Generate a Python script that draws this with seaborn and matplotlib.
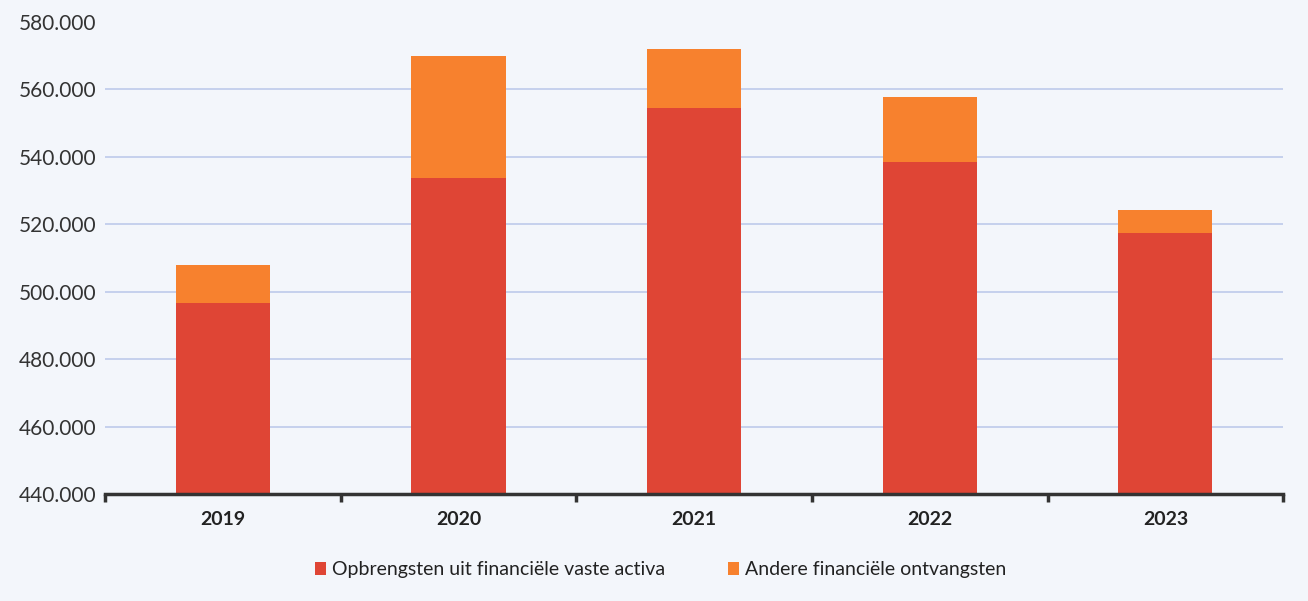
import matplotlib
matplotlib.use("Agg")
import matplotlib.pyplot as plt
import seaborn as sns
import pandas as pd
from matplotlib.ticker import FuncFormatter, FixedLocator
from matplotlib.patches import Patch

years = ["2019", "2020", "2021", "2022", "2023"]
opbrengsten = [496.7, 533.7, 554.5, 538.5, 517.4]
andere = [11.2, 36.2, 17.5, 19.3, 6.8]
series_names = ["Opbrengsten uit financiële vaste activa", "Andere financiële ontvangsten"]

totals = [a + b for a, b in zip(opbrengsten, andere)]
df = pd.DataFrame({"year": years, "red": opbrengsten, "total": totals})

sns.set_theme(style="white")
plt.rcParams["font.family"] = ["Lato", "DejaVu Sans"]

bg = "#f3f6fb"
red = "#df4535"
orange = "#f7812e"

fig = plt.figure(figsize=(13.08, 6.01), dpi=100, facecolor=bg)
ax = fig.add_axes([0.0803, 0.178, 0.9007, 0.7854])
ax.set_facecolor(bg)

sns.barplot(data=df, x="year", y="total", color=orange, saturation=1, width=0.4, ax=ax, zorder=3)
sns.barplot(data=df, x="year", y="red", color=red, saturation=1, width=0.4, ax=ax, zorder=3)
for p in ax.patches:
    p.set_edgecolor("none")

ax.set_ylim(440, 580)
ax.set_xlim(-0.5, 4.5)
ax.yaxis.set_major_locator(FixedLocator(list(range(440, 581, 20))))
ax.yaxis.set_major_formatter(FuncFormatter(lambda v, p: f"{int(v)}.000"))
for v in range(460, 580, 20):
    ax.axhline(v, color="#b9c7ea", lw=1.1, zorder=1)

for s in ["top", "right", "left"]:
    ax.spines[s].set_visible(False)
ax.spines["bottom"].set_color("#333333")
ax.spines["bottom"].set_linewidth(2.5)
ax.spines["bottom"].set_zorder(4)

ax.set_xlabel("")
ax.set_ylabel("")
ax.tick_params(axis="y", length=0, labelsize=15, labelcolor="#333333", pad=6)
ax.tick_params(axis="x", which="major", length=0, labelsize=14, labelcolor="#222222", pad=12)
for t in ax.get_xticklabels():
    t.set_fontweight("bold")
ax.set_xticks([-0.5, 0.5, 1.5, 2.5, 3.5, 4.5], minor=True)
ax.tick_params(axis="x", which="minor", bottom=True, length=6, width=2.5, color="#333333", direction="out")

handles = [Patch(facecolor=red, edgecolor="none"), Patch(facecolor=orange, edgecolor="none")]
fig.legend(handles, series_names, loc="center", bbox_to_anchor=(0.505, 0.052), ncol=2,
           frameon=False, fontsize=14, handlelength=0.6, handleheight=0.6,
           handletextpad=0.3, columnspacing=3.2, labelcolor="#222222")

fig.savefig("out.png", dpi=100, facecolor=bg)
